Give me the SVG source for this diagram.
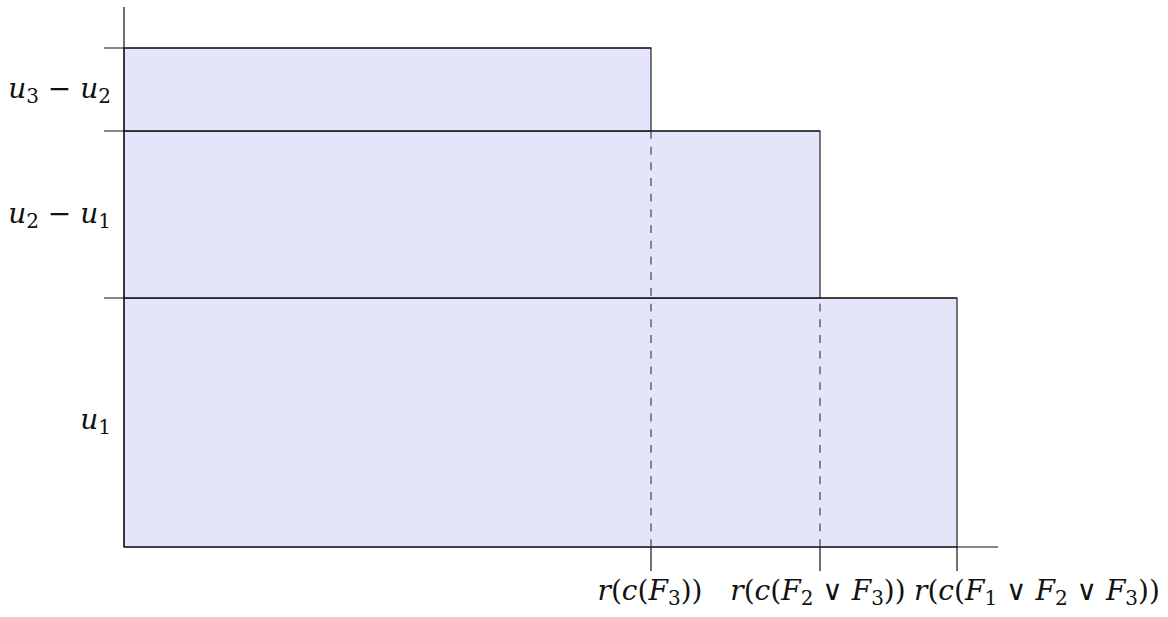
<svg xmlns="http://www.w3.org/2000/svg" width="1168" height="617" viewBox="0 0 1168 617">
<style>
.bar{fill:#e4e4fb;stroke:#222;stroke-width:1.2}
.ax{stroke:#111;stroke-width:1.2;fill:none}
.dash{stroke:#444;stroke-width:1.2;stroke-dasharray:7.85,7.85;fill:none}
text{font-family:"DejaVu Serif","Liberation Serif",serif;font-size:28px;fill:#111}
.i{font-style:italic}
.s{font-size:20px}
</style>
<rect width="1168" height="617" fill="#fff"/>
<g id="bars">
<rect id="bar3" class="bar" x="124" y="298" width="833" height="249"/>
<rect id="bar2" class="bar" x="124" y="131" width="696" height="167"/>
<rect id="bar1" class="bar" x="124" y="48" width="527" height="83"/>
</g>
<g id="connectors">
<line class="ax" x1="124" y1="7" x2="124" y2="547"/>
<line class="ax" x1="124" y1="547" x2="998" y2="547"/>
<line class="ax" x1="104" y1="48" x2="651" y2="48"/>
<line class="ax" x1="104" y1="131" x2="820" y2="131"/>
<line class="ax" x1="104" y1="298" x2="957" y2="298"/>
<line class="dash" x1="651" y1="547" x2="651" y2="132"/>
<line class="dash" x1="820" y1="547" x2="820" y2="299"/>
<line class="ax" x1="651" y1="547" x2="651" y2="571"/>
<line class="ax" x1="820" y1="547" x2="820" y2="571"/>
<line class="ax" x1="957" y1="547" x2="957" y2="571"/>
</g>
<g id="ylabels">
<text x="111" y="98" text-anchor="end"><tspan class="i">u</tspan><tspan class="s" dy="5">3</tspan><tspan dy="-5"> − </tspan><tspan class="i">u</tspan><tspan class="s" dy="5">2</tspan></text>
<text x="111" y="223" text-anchor="end"><tspan class="i">u</tspan><tspan class="s" dy="5">2</tspan><tspan dy="-5"> − </tspan><tspan class="i">u</tspan><tspan class="s" dy="5">1</tspan></text>
<text x="111" y="429" text-anchor="end"><tspan class="i">u</tspan><tspan class="s" dy="5">1</tspan></text>
</g>
<g id="xlabels">
<text x="650" y="600" text-anchor="middle"><tspan class="i">r</tspan>(<tspan class="i">c</tspan>(<tspan class="i">F</tspan><tspan class="s" dy="5">3</tspan><tspan dy="-5">))</tspan></text>
<text x="818" y="600" text-anchor="middle"><tspan class="i">r</tspan>(<tspan class="i">c</tspan>(<tspan class="i">F</tspan><tspan class="s" dy="5">2</tspan><tspan dy="-5"> ∨ </tspan><tspan class="i">F</tspan><tspan class="s" dy="5">3</tspan><tspan dy="-5">))</tspan></text>
<text x="1037" y="600" text-anchor="middle"><tspan class="i">r</tspan>(<tspan class="i">c</tspan>(<tspan class="i">F</tspan><tspan class="s" dy="5">1</tspan><tspan dy="-5"> ∨ </tspan><tspan class="i">F</tspan><tspan class="s" dy="5">2</tspan><tspan dy="-5"> ∨ </tspan><tspan class="i">F</tspan><tspan class="s" dy="5">3</tspan><tspan dy="-5">))</tspan></text>
</g>
</svg>
